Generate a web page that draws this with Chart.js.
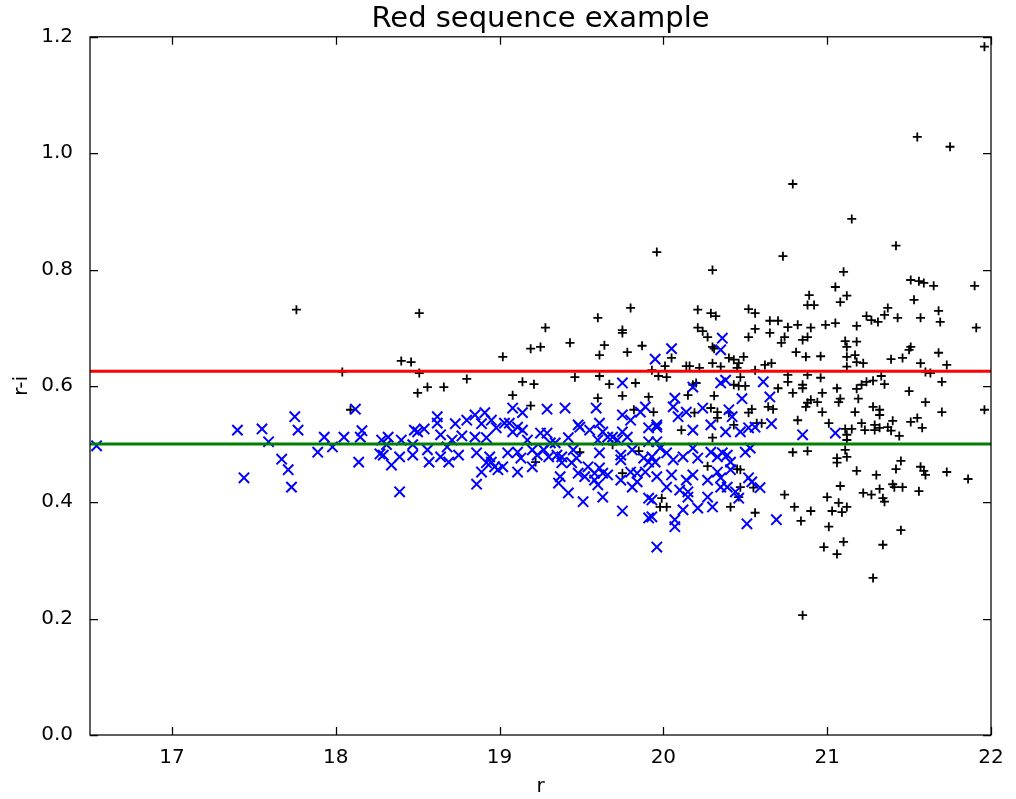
<!DOCTYPE html>
<html>
<head>
<meta charset="utf-8">
<title>Red sequence example</title>
<script src="https://cdn.jsdelivr.net/npm/chart.js@4.4.1/dist/chart.umd.min.js"></script>
<style>
  html, body { margin: 0; padding: 0; background: #fff; }
  #wrap { width: 1016px; height: 799px; }
</style>
</head>
<body>
<div id="wrap"><canvas id="cmd" width="1016" height="799"></canvas></div>
<script>
// r magnitude and r-i colour for every galaxy in the field (black +)
const fieldR = [
  17.76, 18.04, 18.40, 18.46, 18.51, 18.50, 18.56, 18.66, 18.80, 18.09, 18.51,
  19.02, 19.19, 19.25, 19.28, 19.43, 19.64, 19.61, 19.46, 19.61, 19.67, 19.14,
  19.21, 19.08, 19.19, 19.60, 19.22, 19.49, 19.60, 19.80, 19.75, 19.75, 19.96,
  19.78, 19.87, 19.83, 19.93, 19.97, 19.75, 19.91, 19.82, 19.94, 19.69, 19.85,
  19.75, 20.30, 20.21, 20.29, 20.32, 20.52, 20.56, 20.21, 20.24, 20.27, 20.56,
  20.52, 20.30, 20.31, 20.40, 20.43, 20.49, 20.46, 20.05, 20.01, 20.14, 20.16,
  20.22, 20.30, 20.35, 20.45, 20.56, 20.02, 20.20, 20.18, 20.47, 20.43, 20.46,
  20.50, 20.15, 20.31, 20.29, 20.33, 20.33, 20.40, 20.43, 20.52, 20.54, 20.57,
  20.11, 20.30, 20.19, 20.27, 20.45, 20.47, 20.47, 20.55, 20.46, 19.99, 19.98,
  20.02, 20.41, 20.56, 20.79, 21.15, 20.73, 21.10, 21.05, 21.12, 21.08, 20.89,
  20.88, 20.92, 20.65, 20.70, 20.76, 20.82, 20.90, 20.99, 21.05, 21.18, 21.24,
  21.27, 21.31, 20.65, 20.74, 20.72, 20.85, 20.88, 21.11, 21.12, 21.18, 20.81,
  20.87, 20.96, 21.12, 21.17, 21.18, 21.22, 20.62, 20.66, 21.12, 20.76, 20.76,
  20.88, 20.96, 20.85, 20.85, 20.70, 20.79, 20.97, 21.06, 21.18, 21.21, 21.24,
  21.28, 20.90, 20.94, 20.88, 21.08, 21.07, 21.19, 20.64, 20.67, 20.87, 20.97,
  21.17, 21.28, 20.60, 20.82, 21.01, 21.21, 21.29, 21.11, 21.15, 21.23, 21.29,
  21.12, 21.12, 20.79, 20.88, 21.11, 21.06, 21.06, 21.12, 21.18, 21.30, 21.08,
  20.74, 21.00, 21.22, 21.27, 21.07, 20.80, 20.90, 21.03, 21.09, 21.12, 20.84,
  21.01, 21.10, 20.98, 21.06, 21.28, 20.85, 21.96, 21.55, 21.75, 21.42, 21.51,
  21.56, 21.59, 21.65, 21.90, 21.53, 21.37, 21.35, 21.43, 21.57, 21.68, 21.69,
  21.91, 21.51, 21.50, 21.39, 21.46, 21.68, 21.57, 21.73, 21.60, 21.63, 21.33,
  21.35, 21.70, 21.50, 21.60, 21.32, 21.32, 21.70, 21.96, 21.40, 21.32, 21.37,
  21.39, 21.51, 21.55, 21.58, 21.44, 21.45, 21.42, 21.57, 21.59, 21.60, 21.73,
  21.86, 21.40, 21.41, 21.46, 21.56, 21.32, 21.34, 21.35, 21.45, 21.34
];
const fieldRI = [
  0.731, 0.624, 0.643, 0.641, 0.622, 0.588, 0.598, 0.598, 0.612, 0.559, 0.725,
  0.650, 0.664, 0.667, 0.700, 0.674, 0.670, 0.653, 0.615, 0.617, 0.603, 0.607,
  0.603, 0.584, 0.566, 0.579, 0.469, 0.486, 0.717, 0.734, 0.696, 0.691, 0.830,
  0.658, 0.669, 0.605, 0.627, 0.617, 0.583, 0.581, 0.559, 0.555, 0.499, 0.488,
  0.450, 0.799, 0.731, 0.725, 0.720, 0.732, 0.725, 0.700, 0.694, 0.684, 0.698,
  0.684, 0.667, 0.664, 0.648, 0.645, 0.650, 0.639, 0.648, 0.634, 0.634, 0.634,
  0.631, 0.639, 0.633, 0.631, 0.627, 0.615, 0.605, 0.602, 0.615, 0.602, 0.600,
  0.600, 0.584, 0.583, 0.562, 0.555, 0.545, 0.554, 0.533, 0.554, 0.560, 0.536,
  0.524, 0.511, 0.554, 0.462, 0.457, 0.456, 0.426, 0.425, 0.409, 0.407, 0.392,
  0.392, 0.392, 0.382, 0.947, 0.887, 0.823, 0.796, 0.770, 0.755, 0.744, 0.756,
  0.739, 0.739, 0.712, 0.712, 0.701, 0.705, 0.700, 0.705, 0.708, 0.703, 0.720,
  0.713, 0.710, 0.691, 0.684, 0.674, 0.679, 0.684, 0.677, 0.667, 0.676, 0.658,
  0.650, 0.651, 0.650, 0.653, 0.641, 0.639, 0.636, 0.639, 0.633, 0.619, 0.607,
  0.619, 0.614, 0.602, 0.596, 0.596, 0.588, 0.588, 0.596, 0.595, 0.602, 0.607,
  0.609, 0.576, 0.572, 0.571, 0.578, 0.572, 0.578, 0.564, 0.560, 0.564, 0.555,
  0.555, 0.564, 0.536, 0.541, 0.536, 0.536, 0.533, 0.526, 0.526, 0.524, 0.524,
  0.516, 0.507, 0.486, 0.488, 0.490, 0.476, 0.468, 0.478, 0.454, 0.447, 0.428,
  0.413, 0.409, 0.416, 0.413, 0.399, 0.392, 0.385, 0.385, 0.383, 0.392, 0.368,
  0.358, 0.332, 0.323, 0.311, 0.270, 0.206, 1.183, 1.028, 1.011, 0.841, 0.782,
  0.780, 0.777, 0.772, 0.772, 0.748, 0.734, 0.722, 0.717, 0.717, 0.729, 0.710,
  0.700, 0.667, 0.662, 0.646, 0.648, 0.657, 0.639, 0.636, 0.624, 0.622, 0.617,
  0.603, 0.607, 0.591, 0.572, 0.559, 0.550, 0.555, 0.559, 0.540, 0.528, 0.529,
  0.523, 0.538, 0.545, 0.528, 0.514, 0.471, 0.457, 0.461, 0.454, 0.447, 0.452,
  0.440, 0.431, 0.426, 0.426, 0.419, 0.423, 0.407, 0.401, 0.352, 0.327
];

// selected red-sequence candidates (blue x)
const memberR = [
  16.54, 17.40, 17.44, 17.55, 17.59, 17.75, 17.77, 17.67, 17.71, 17.73, 17.89,
  17.93, 17.98, 18.12, 18.05, 18.16, 18.15, 18.14, 18.28, 18.32, 18.31, 18.27,
  18.29, 18.34, 18.39, 18.40, 18.39, 18.47, 18.48, 18.50, 18.54, 18.47, 18.56,
  18.57, 18.62, 18.62, 18.64, 18.64, 18.69, 18.68, 18.73, 18.71, 18.75, 18.77,
  18.80, 18.85, 18.85, 18.86, 18.89, 18.91, 18.95, 18.98, 18.92, 18.94, 18.92,
  18.95, 18.97, 18.89, 18.86, 18.99, 19.08, 19.29, 19.40, 19.59, 19.14, 19.03,
  19.06, 19.11, 19.14, 19.08, 19.17, 19.05, 19.11, 19.13, 19.02, 19.11, 19.20,
  19.25, 19.29, 19.31, 19.34, 19.27, 19.23, 19.20, 19.30, 19.35, 19.42, 19.48,
  19.49, 19.55, 19.61, 19.63, 19.66, 19.60, 19.69, 19.61, 19.38, 19.38, 19.44,
  19.47, 19.48, 19.54, 19.37, 19.36, 19.42, 19.51, 19.61, 19.58, 19.63, 19.60,
  19.66, 19.63, 19.75, 19.75, 19.80, 19.86, 19.89, 19.91, 19.96, 19.75, 19.78,
  19.72, 19.91, 19.96, 19.45, 19.74, 19.74, 19.81, 19.93, 19.95, 19.91, 19.88,
  19.52, 19.58, 19.74, 19.80, 19.84, 19.81, 19.84, 19.89, 19.75, 19.91, 19.91,
  19.96, 20.36, 20.35, 20.05, 19.95, 20.18, 20.35, 20.38, 20.07, 20.48, 20.06,
  20.09, 19.96, 20.14, 20.18, 20.24, 20.29, 20.40, 20.42, 20.38, 20.47, 20.52,
  20.56, 19.98, 20.02, 20.06, 20.12, 20.18, 20.21, 20.29, 20.33, 20.36, 20.39,
  20.41, 20.50, 20.53, 19.96, 20.05, 20.18, 20.14, 20.27, 20.33, 20.35, 20.41,
  20.35, 20.39, 20.02, 20.10, 20.15, 20.15, 20.27, 20.44, 20.46, 20.52, 20.54,
  19.93, 19.93, 20.12, 20.21, 20.30, 20.07, 20.07, 20.51, 20.61, 20.65, 20.66,
  20.85, 21.05, 20.59, 20.69
];
const memberRI = [
  0.497, 0.524, 0.442, 0.526, 0.504, 0.547, 0.524, 0.474, 0.456, 0.426, 0.486,
  0.512, 0.495, 0.560, 0.512, 0.523, 0.512, 0.469, 0.507, 0.512, 0.499, 0.483,
  0.481, 0.464, 0.478, 0.507, 0.418, 0.499, 0.524, 0.521, 0.526, 0.481, 0.490,
  0.469, 0.547, 0.536, 0.516, 0.478, 0.469, 0.495, 0.535, 0.507, 0.481, 0.514,
  0.541, 0.550, 0.512, 0.485, 0.535, 0.554, 0.541, 0.528, 0.511, 0.478, 0.468,
  0.469, 0.461, 0.452, 0.431, 0.456, 0.562, 0.560, 0.562, 0.562, 0.554, 0.536,
  0.536, 0.529, 0.524, 0.521, 0.507, 0.485, 0.486, 0.476, 0.461, 0.452, 0.461,
  0.519, 0.519, 0.502, 0.502, 0.490, 0.481, 0.490, 0.478, 0.481, 0.511, 0.533,
  0.529, 0.524, 0.536, 0.521, 0.512, 0.507, 0.512, 0.485, 0.478, 0.468, 0.468,
  0.476, 0.450, 0.461, 0.444, 0.433, 0.416, 0.401, 0.459, 0.450, 0.450, 0.430,
  0.447, 0.409, 0.605, 0.550, 0.541, 0.555, 0.564, 0.528, 0.529, 0.521, 0.512,
  0.507, 0.504, 0.504, 0.490, 0.481, 0.473, 0.490, 0.478, 0.469, 0.469, 0.476,
  0.444, 0.438, 0.438, 0.452, 0.450, 0.426, 0.435, 0.452, 0.385, 0.407, 0.373,
  0.323, 0.682, 0.662, 0.664, 0.646, 0.598, 0.605, 0.610, 0.579, 0.578, 0.564,
  0.547, 0.533, 0.555, 0.524, 0.562, 0.533, 0.559, 0.547, 0.521, 0.521, 0.528,
  0.529, 0.493, 0.485, 0.473, 0.478, 0.493, 0.476, 0.486, 0.478, 0.485, 0.481,
  0.469, 0.486, 0.493, 0.444, 0.447, 0.447, 0.438, 0.438, 0.452, 0.442, 0.456,
  0.426, 0.426, 0.426, 0.421, 0.418, 0.409, 0.409, 0.418, 0.407, 0.442, 0.435,
  0.404, 0.375, 0.387, 0.390, 0.392, 0.370, 0.358, 0.363, 0.607, 0.581, 0.535,
  0.516, 0.519, 0.425, 0.370
];

// reference colour levels and axis layout
const redSequenceRI = 0.625;
const cutRI = 0.5;
const rRange = [16.5, 22];
const riRange = [0, 1.2];
const rTicks = [17, 18, 19, 20, 21, 22];
const riTicks = [0.0, 0.2, 0.4, 0.6, 0.8, 1.0, 1.2];

const FONT = 'DejaVu Sans';
const TICK_LEN = 8;

const toPoints = (xs, ys) => xs.map((x, i) => ({ x, y: ys[i] }));
const hline = level => rRange.map(x => ({ x, y: level }));

// matplotlib-style box with inward ticks on every side
const frameTicks = {
  id: 'frameTicks',
  afterDatasetsDraw(chart) {
    const { ctx, chartArea: a, scales: { x, y } } = chart;
    ctx.save();
    ctx.strokeStyle = '#000';
    ctx.lineWidth = 1.25;
    ctx.strokeRect(a.left, a.top, a.right - a.left, a.bottom - a.top);
    ctx.beginPath();
    rTicks.forEach(v => {
      const px = Math.round(x.getPixelForValue(v)) + 0.5;
      ctx.moveTo(px, a.bottom); ctx.lineTo(px, a.bottom - TICK_LEN);
      ctx.moveTo(px, a.top); ctx.lineTo(px, a.top + TICK_LEN);
    });
    riTicks.forEach(v => {
      const py = Math.round(y.getPixelForValue(v)) + 0.5;
      ctx.moveTo(a.left, py); ctx.lineTo(a.left + TICK_LEN, py);
      ctx.moveTo(a.right, py); ctx.lineTo(a.right - TICK_LEN, py);
    });
    ctx.stroke();
    ctx.restore();
  }
};

new Chart(document.getElementById('cmd'), {
  type: 'scatter',
  data: {
    datasets: [
      {
        label: 'r-i = 0.5',
        data: hline(cutRI),
        showLine: true,
        borderColor: '#008000',
        borderWidth: 3,
        pointRadius: 0,
        order: 0
      },
      {
        label: 'red sequence',
        data: hline(redSequenceRI),
        showLine: true,
        borderColor: '#ff0000',
        borderWidth: 3,
        pointRadius: 0,
        order: 1
      },
      {
        label: 'members',
        data: toPoints(memberR, memberRI),
        pointStyle: 'crossRot',
        pointRadius: 7.3,
        borderColor: '#0000ff',
        backgroundColor: '#0000ff',
        pointBorderWidth: 2,
        order: 2
      },
      {
        label: 'field',
        data: toPoints(fieldR, fieldRI),
        pointStyle: 'cross',
        pointRadius: 4.5,
        borderColor: '#000',
        backgroundColor: '#000',
        pointBorderWidth: 1.8,
        order: 3
      }
    ]
  },
  options: {
    responsive: false,
    animation: false,
    events: [],
    layout: { padding: { left: 0, right: 25, top: 0, bottom: 0 } },
    plugins: {
      legend: { display: false },
      tooltip: { enabled: false },
      title: {
        display: true,
        text: 'Red sequence example',
        color: '#000',
        fullSize: false,
        font: { family: FONT, size: 29, weight: 'normal' },
        padding: { top: 2, bottom: 0 }
      }
    },
    scales: {
      x: {
        type: 'linear',
        min: rRange[0],
        max: rRange[1],
        afterBuildTicks: s => { s.ticks = rTicks.map(v => ({ value: v })); },
        afterFit: s => { s.height = 64; },
        grid: { display: false },
        border: { display: false },
        ticks: {
          color: '#000',
          font: { family: FONT, size: 20 },
          padding: 3,
          maxRotation: 0,
          autoSkip: false
        },
        title: {
          display: true,
          text: 'r',
          color: '#000',
          font: { family: FONT, size: 20 },
          padding: { top: 0, bottom: 0 }
        }
      },
      y: {
        type: 'linear',
        min: riRange[0],
        max: riRange[1],
        afterBuildTicks: s => { s.ticks = riTicks.map(v => ({ value: v })); },
        afterFit: s => { s.width = 90; },
        grid: { display: false },
        border: { display: false },
        ticks: {
          color: '#000',
          font: { family: FONT, size: 20 },
          padding: 9,
          autoSkip: false,
          callback: v => Number(v).toFixed(1)
        },
        title: {
          display: true,
          text: 'r-i',
          color: '#000',
          font: { family: FONT, size: 20 },
          padding: { top: 10, bottom: 0 }
        }
      }
    }
  },
  plugins: [frameTicks]
});
</script>
</body>
</html>
